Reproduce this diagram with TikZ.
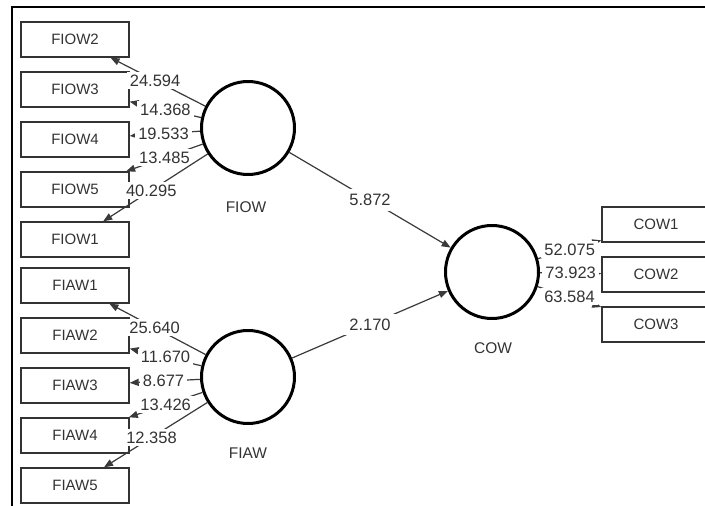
\documentclass[tikz,border=0pt]{standalone}
\usepackage{fontspec}
\setmainfont{Liberation Sans}
\usetikzlibrary{arrows.meta}
\definecolor{ink}{HTML}{333333}
\definecolor{edge}{HTML}{3A3A3A}
\tikzset{
  ind/.style={draw=ink, line width=1.4pt, minimum width=108pt, minimum height=35pt, inner sep=0pt, text=ink, font=\fontsize{15}{18}\selectfont},
  lat/.style={draw=black, line width=3pt, circle, minimum size=93pt, inner sep=0pt},
  latlab/.style={text=ink, font=\fontsize{15.5}{18}\selectfont},
  conn/.style={draw=edge, line width=1.2pt, -{Triangle[length=9pt,width=7pt]}},
  val/.style={fill=white, text=ink, inner xsep=3pt, inner ysep=2.5pt, font=\fontsize{16.5}{19}\selectfont}
}
\begin{document}
\begin{tikzpicture}[x=1pt,y=-1pt]
\useasboundingbox (0,0) rectangle (705,506);
\clip (0,0) rectangle (705,506);
\fill[white] (0,0) rectangle (705,506);
\draw[black, line width=2pt] (12,506) -- (12,7) -- (706,7);
% indicator boxes
\node[ind] (fiow2) at (75,39.5) {FIOW2};
\node[ind] (fiow3) at (75,89.5) {FIOW3};
\node[ind] (fiow4) at (75,139.5) {FIOW4};
\node[ind] (fiow5) at (75,189.5) {FIOW5};
\node[ind] (fiow1) at (75,239.5) {FIOW1};
\node[ind] (fiaw1) at (75,285.5) {FIAW1};
\node[ind] (fiaw2) at (75,335.5) {FIAW2};
\node[ind] (fiaw3) at (75,385.5) {FIAW3};
\node[ind] (fiaw4) at (75,435.5) {FIAW4};
\node[ind] (fiaw5) at (75,485.5) {FIAW5};
\node[ind] (cow1) at (656,224.5) {COW1};
\node[ind] (cow2) at (656,274.5) {COW2};
\node[ind] (cow3) at (656,324.5) {COW3};
% latent variables
\node[lat] (fiow) at (248,128) {};
\node[lat] (fiaw) at (248,377) {};
\node[lat] (cow) at (492,272) {};
\node[latlab] (fiowl) at (246,207) {FIOW};
\node[latlab] (fiawl) at (248,453) {FIAW};
\node[latlab] (cowl) at (493,348) {COW};
% outer loadings FIOW
\draw[conn] (fiow) -- node[val,pos=0.53] (l1) {24.594} (fiow2);
\draw[conn] (fiow) -- node[val,pos=0.5] (l2) {14.368} (fiow3);
\draw[conn] (fiow) -- node[val,pos=0.52] (l3) {19.533} (fiow4);
\draw[conn] (fiow) -- node[val,pos=0.5] (l4) {13.485} (fiow5);
\draw[conn] (fiow) -- node[val,pos=0.54] (l5) {40.295} (fiow1);
% outer loadings FIAW
\draw[conn] (fiaw) -- node[val,pos=0.53] (m1) {25.640} (fiaw1);
\draw[conn] (fiaw) -- node[val,pos=0.5] (m2) {11.670} (fiaw2);
\draw[conn] (fiaw) -- node[val,pos=0.52] (m3) {8.677} (fiaw3);
\draw[conn] (fiaw) -- node[val,pos=0.5] (m4) {13.426} (fiaw4);
\draw[conn] (fiaw) -- node[val,pos=0.54] (m5) {12.358} (fiaw5);
% outer loadings COW
\draw[conn] (cow) -- node[val,pos=0.5] (c1) {52.075} (cow1);
\draw[conn] (cow) -- node[val,pos=0.5] (c2) {73.923} (cow2);
\draw[conn] (cow) -- node[val,pos=0.5] (c3) {63.584} (cow3);
% path coefficients
\draw[conn] (fiow) -- node[val,pos=0.5,inner sep=5pt] (p1) {5.872} (cow);
\draw[conn] (fiaw) -- node[val,pos=0.5,inner sep=5pt] (p2) {2.170} (cow);
\end{tikzpicture}
\end{document}
